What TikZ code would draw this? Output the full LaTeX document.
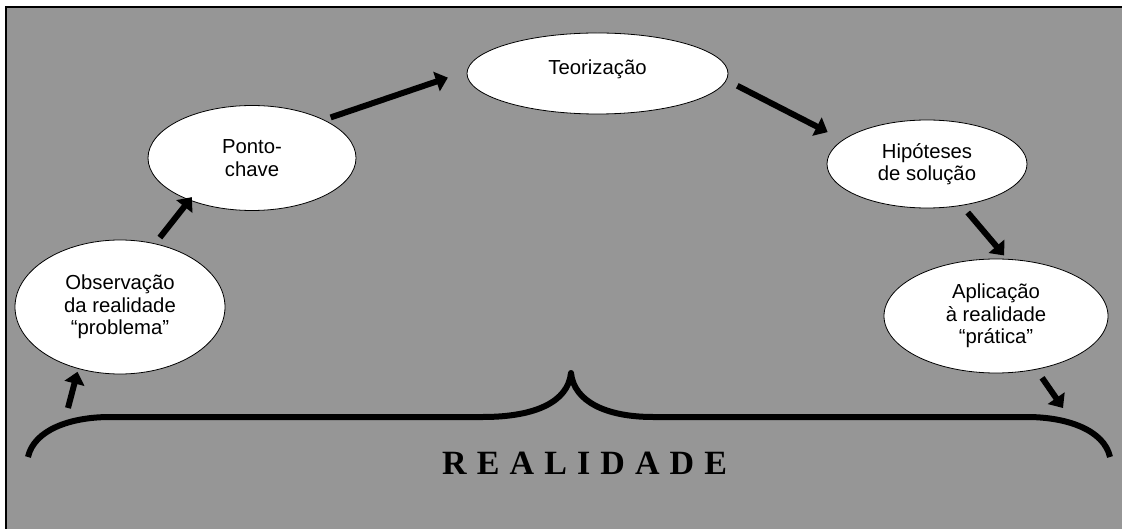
\documentclass[tikz,border=0pt]{standalone}
\usepackage{fontspec}
\setmainfont{Liberation Sans}
\newfontfamily\serifbold{Liberation Serif}
\usetikzlibrary{shapes.geometric,arrows.meta}
\definecolor{bg}{RGB}{150,150,150}
\newcommand{\rgap}{\hspace{10.1pt}}
\begin{document}
\begin{tikzpicture}[x=1pt,y=-1pt,
  bub/.style={ellipse, draw=black, line width=0.8pt, fill=white, inner sep=0pt,
    align=center, font=\fontsize{20.3}{22.5}\selectfont},
  arr/.style={line width=6pt, -{Triangle[width=20pt,length=12pt]}},
  bracestyle/.style={line width=6pt, line join=round}]
\useasboundingbox (0,0) rectangle (1122,529);
\clip (0,0) rectangle (1122,529);
\fill[bg] (6,7) rectangle (1130,540);
\draw[line width=1.3pt] (1130,7) -- (6,7) -- (6,540);

\node[bub, minimum width=210pt, minimum height=134pt] (obs) at (120,307) {Observação\\da realidade\\“problema”};
\node[bub, minimum width=208pt, minimum height=105pt] (pc) at (252,158) {Ponto-\\chave};
\node[bub, minimum width=261pt, minimum height=81pt, text depth=12pt] (teo) at (597.5,73.5) {Teorização};
\node[bub, minimum width=200pt, minimum height=88pt] (hip) at (927,164) {Hipóteses\\de solução};
\node[bub, minimum width=224pt, minimum height=114pt] (apl) at (996,316) {Aplicação\\à realidade\\“prática”};

\coordinate (a1s) at (68,408);
\coordinate (a6e) at (1063,408);
\draw[arr, shorten >=3pt] (a1s) -- (obs.236.5);
\draw[arr, shorten <=7.5pt, shorten >=-4pt] (obs.61) -- (pc.214.5);
\draw[arr, shorten <=7pt, shorten >=20pt] (pc.28) -- (teo.179);
\draw[arr, shorten <=12pt, shorten >=17pt] (teo.-3) -- (hip.164);
\draw[arr, shorten <=9pt, shorten >=4.5pt] (hip.-50) -- (apl.79);
\draw[arr, shorten <=10pt] (apl.-53) -- (a6e);

\draw[bracestyle] (28,457) .. controls (34,430) and (70,417) .. (110,417) -- (483,417)
  .. controls (535,417) and (568,402) .. (571,373)
  .. controls (574,402) and (607,417) .. (653,417) -- (1027,417)
  .. controls (1067,417) and (1104,430) .. (1110,457);

\node[anchor=base west, inner sep=0pt, font=\serifbold\bfseries\fontsize{34}{40}\selectfont] (real) at (442,474)
  {R\rgap E\rgap A\rgap L\rgap I\rgap D\rgap A\rgap D\rgap E};
\end{tikzpicture}
\end{document}
